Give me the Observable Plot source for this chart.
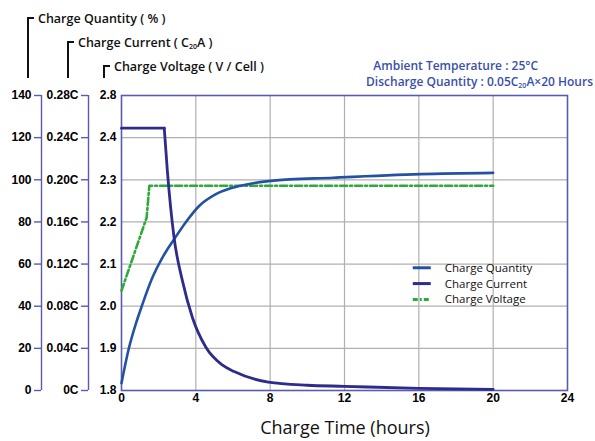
<!DOCTYPE html>
<html><head><meta charset="utf-8">
<script src="https://cdn.jsdelivr.net/npm/d3@7"></script>
<script src="https://cdn.jsdelivr.net/npm/@observablehq/plot@0.6"></script>
<style>body{margin:0;background:#fff}</style>
</head><body><div id="chart"></div>
<script>
// ---- data ----
const quantityHours = [0, 0.41, 0.77, 1.13, 1.67, 2.21, 2.84, 3.47, 4.19, 5.08, 6.42, 8.04, 11.4, 16.1, 20];
const quantityPct   = [3.5, 20.5, 31.6, 41, 53.7, 63.2, 71.9, 80, 87.7, 93.2, 97.2, 99.5, 101, 102.7, 103.3];
const currentHours  = [0, 2.3, 2.47, 2.83, 3.28, 3.82, 4.54, 5.44, 6.06, 7.9, 10, 12, 16, 20];
const currentC      = [0.249, 0.249, 0.208, 0.145, 0.104, 0.069, 0.041, 0.024, 0.018, 0.008, 0.005, 0.004, 0.002, 0.001];
const voltageHours  = [0, 1.35, 1.5, 20];
const voltageV      = [2.037, 2.21, 2.286, 2.286];
const xTicks        = [0, 4, 8, 12, 16, 20, 24];
const quantityTicks = ["0", "20", "40", "60", "80", "100", "120", "140"];
const currentTicks  = ["0C", "0.04C", "0.08C", "0.12C", "0.16C", "0.20C", "0.24C", "0.28C"];
const voltageTicks  = ["1.8", "1.9", "2.0", "2.1", "2.2", "2.3", "2.4", "2.8"];
const seriesNames   = ["Charge Quantity", "Charge Current", "Charge Voltage"];
const seriesColors  = ["#2452a3", "#2d2c8c", "#2eaa3a"];

// shared internal scale: 7 grid steps (20 % / 0.04C / 0.1 V per step)
const quantity = quantityHours.map((h, i) => ({h, y: quantityPct[i] / 20}));
const current  = currentHours.map((h, i) => ({h, y: currentC[i] / 0.04}));
const voltage  = voltageHours.map((h, i) => ({h, y: (voltageV[i] - 1.8) / 0.1}));
const steps = d3.range(0, 8);
const axisColor = "#5a5ab0";

const plot = Plot.plot({
  width: 595, height: 441,
  marginLeft: 121, marginRight: 28, marginTop: 95, marginBottom: 51,
  x: {domain: [0, 24]},
  y: {domain: [0, 7]},
  style: {fontFamily: "'Liberation Sans', Arial, sans-serif", fontSize: "12px", fontWeight: "bold", color: "#000", background: "#fff"},
  marks: [
    Plot.gridX(xTicks.slice(1, -1), {stroke: "#b0b0b0", strokeOpacity: 1, strokeWidth: 1.2}),
    Plot.gridY(steps.slice(1, -1), {stroke: "#b0b0b0", strokeOpacity: 1, strokeWidth: 1.2}),
    Plot.frame({stroke: axisColor, strokeWidth: 1.6}),
    Plot.axisX(xTicks, {tickSize: 0, tickPadding: 3, label: null, fill: "#000"}),
    Plot.axisY(steps, {tickSize: 0, tickPadding: 5, tickFormat: i => voltageTicks[i], label: null, fill: "#000"}),
    Plot.axisY(steps, {dx: -33, tickSize: 7, tickPadding: 3, tickFormat: i => currentTicks[i], label: null, stroke: axisColor, fill: "#000", strokeWidth: 1.4}),
    Plot.ruleX([0], {y1: 0, y2: 7, dx: -33, stroke: axisColor, strokeWidth: 1.4}),
    Plot.axisY(steps, {dx: -80, tickSize: 7, tickPadding: 3, tickFormat: i => quantityTicks[i], label: null, stroke: axisColor, fill: "#000", strokeWidth: 1.4}),
    Plot.ruleX([0], {y1: 0, y2: 7, dx: -80, stroke: axisColor, strokeWidth: 1.4}),
    Plot.line(voltage, {x: "h", y: "y", stroke: seriesColors[2], strokeWidth: 2.6, strokeDasharray: "7,3,2,3"}),
    Plot.line(quantity, {x: "h", y: "y", stroke: seriesColors[0], strokeWidth: 2.6, curve: "monotone-x"}),
    Plot.line(current.filter(d => d.h <= 2.3), {x: "h", y: "y", stroke: seriesColors[1], strokeWidth: 2.8}),
    Plot.line(current.filter(d => d.h >= 2.3), {x: "h", y: "y", stroke: seriesColors[1], strokeWidth: 2.8, curve: "monotone-x"})
  ]
});
document.getElementById("chart").append(plot);

// ---- decorations: axis titles, legend, notes ----
const svg = d3.select(plot);
const sx = plot.scale("x").apply, sy = plot.scale("y").apply;
const yTop = sy(7), x0 = sx(0);
const titleFont = "'Open Sans', 'Noto Sans', sans-serif";

const titles = [
  {lineX: x0 - 93, top: 18, parts: [["Charge Quantity ( % )", false]]},
  {lineX: x0 - 53, top: 42, parts: [["Charge Current ( C", false], ["20", true], ["A )", false]]},
  {lineX: x0 - 17, top: 66, parts: [["Charge Voltage ( V / Cell )", false]]}
];
titles.forEach(tt => {
  svg.append("path")
    .attr("d", `M${tt.lineX},${yTop - 17}V${tt.top}H${tt.lineX + 6}`)
    .attr("fill", "none").attr("stroke", "#111").attr("stroke-width", 2);
  const t = svg.append("text").attr("x", tt.lineX + 10).attr("y", tt.top + 4.5).attr("text-anchor", "start")
    .attr("font-family", titleFont).attr("font-size", 12.5).attr("font-weight", 600).attr("fill", "#111");
  let prevSmall = false;
  tt.parts.forEach(([s, small]) => {
    const sp = t.append("tspan").text(s);
    if (small) sp.attr("font-size", 7).attr("dy", 2);
    else if (prevSmall) sp.attr("dy", -2);
    prevSmall = small;
  });
});

// notes
const noteColor = "#3a50a8";
svg.append("text").attr("x", 538).attr("y", 70).attr("text-anchor", "end")
  .attr("font-family", titleFont).attr("font-size", 12).attr("font-weight", 600).attr("fill", noteColor)
  .text("Ambient Temperature : 25°C");
const n2 = svg.append("text").attr("x", 593).attr("y", 86).attr("text-anchor", "end")
  .attr("font-family", titleFont).attr("font-size", 12).attr("font-weight", 600).attr("fill", noteColor);
n2.append("tspan").text("Discharge Quantity : 0.05C");
n2.append("tspan").text("20").attr("font-size", 7).attr("dy", 2);
n2.append("tspan").text("A×20 Hours").attr("dy", -2);

// legend
const lg = svg.append("g").attr("transform", `translate(${sx(15.7)},${sy(2.9)})`);
seriesNames.forEach((name, i) => {
  const y = i * 15.8;
  lg.append("line").attr("x1", 0).attr("x2", 18).attr("y1", y).attr("y2", y)
    .attr("stroke", seriesColors[i]).attr("stroke-width", 3)
    .attr("stroke-dasharray", i === 2 ? "5,2,2,2" : null);
  lg.append("text").attr("x", 32).attr("y", y + 4).attr("text-anchor", "start").text(name)
    .attr("font-family", titleFont).attr("font-size", 11.5).attr("font-weight", 400).attr("fill", "#111");
});

// x title
svg.append("text").attr("x", 345).attr("y", 434).attr("text-anchor", "middle")
  .attr("font-family", titleFont).attr("font-size", 18).attr("font-weight", 400).attr("fill", "#111")
  .text("Charge Time (hours)");
</script>
</body></html>
